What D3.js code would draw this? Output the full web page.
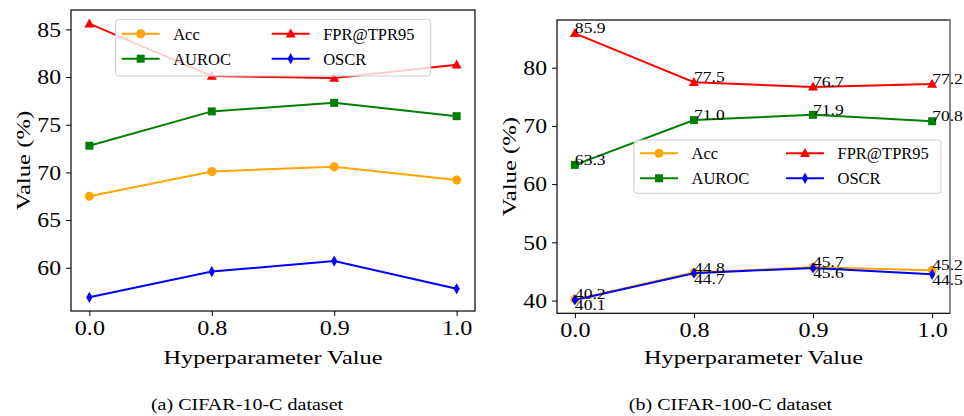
<!DOCTYPE html>
<html>
<head>
<meta charset="utf-8">
<script src="https://cdn.jsdelivr.net/npm/d3@7"></script>
<style>
  html, body { margin: 0; padding: 0; background: #fff; }
  svg { display: block; font-family: "Liberation Serif", "DejaVu Serif", serif; }
</style>
</head>
<body>
<svg id="chart" width="964" height="416"></svg>
<script>
// x categories (hyperparameter values)
const xLabels = ['0.0', '0.8', '0.9', '1.0'];

// (a) CIFAR-10-C
const accA = [67.5, 70.1, 70.6, 69.2];
const aurocA = [72.8, 76.4, 77.3, 75.9];
const fprA = [85.6, 80.1, 79.9, 81.3];
const oscrA = [56.9, 59.6, 60.7, 57.8];
const yTicksA = [60, 65, 70, 75, 80, 85];

// (b) CIFAR-100-C
const accB = [40.2, 44.8, 45.7, 45.2];
const aurocB = [63.3, 71.0, 71.9, 70.8];
const fprB = [85.9, 77.5, 76.7, 77.2];
const oscrB = [40.1, 44.7, 45.6, 44.5];
const yTicksB = [40, 50, 60, 70, 80];

const seriesNames = ['Acc', 'AUROC', 'FPR@TPR95', 'OSCR'];
const seriesColors = ['#FFA500', '#008000', '#FF0000', '#0000FF'];
const seriesMarkers = ['circle', 'square', 'triangle', 'diamond'];

const svg = d3.select('#chart');

// the source figure has its text stretched along the baseline
function stretch(sel, sx) {
  sel.each(function() {
    const el = d3.select(this);
    const x = +el.attr('x') || 0, y = +el.attr('y') || 0;
    el.attr('x', 0).attr('y', 0).attr('transform', `translate(${x},${y}) scale(${sx},1)`);
  });
}

function markerPath(kind) {
  if (kind === 'circle') return d3.symbol(d3.symbolCircle, 64)();
  if (kind === 'square') return d3.symbol(d3.symbolSquare, 64)();
  if (kind === 'triangle') return 'M0,-5.3L5,3.7L-5,3.7Z';
  return 'M0,-5.6L3.2,0L0,5.6L-3.2,0Z';
}

function drawPanel(o) {
  const g = svg.append('g');
  const x = d3.scalePoint().domain(xLabels).range([o.left, o.right]).padding(0.15);
  const all = o.series.flat();
  const lo = d3.min(all), hi = d3.max(all), pad = (hi - lo) * 0.05;
  const y = d3.scaleLinear().domain([lo - pad, hi + pad]).range([o.bottom, o.top]);

  // axes
  const ax = g.append('g').attr('transform', `translate(0,${o.bottom})`)
    .call(d3.axisBottom(x).tickSize(5).tickPadding(4));
  const ay = g.append('g').attr('transform', `translate(${o.left},0)`)
    .call(d3.axisLeft(y).tickValues(o.yTicks).tickSize(5).tickPadding(5));
  [ax, ay].forEach(a => {
    a.attr('font-family', null).attr('font-size', null);
    a.select('.domain').remove();
    a.selectAll('line').attr('stroke', '#000').attr('stroke-width', 1);
    a.selectAll('text').attr('font-size', 21).attr('fill', '#000');
  });
  stretch(ay.selectAll('text'), 1.13);
  stretch(ax.selectAll('text'), 1.15);

  // frame
  g.append('rect').attr('x', o.left).attr('y', o.top)
    .attr('width', o.right - o.left).attr('height', o.bottom - o.top)
    .attr('fill', 'none').attr('stroke', '#000').attr('stroke-width', 1.2);
  if (o.grayRight) {
    g.append('line').attr('x1', o.right).attr('x2', o.right).attr('y1', o.top).attr('y2', o.bottom)
      .attr('stroke', '#888').attr('stroke-width', 2);
  }

  // lines + markers
  const line = d3.line().x((d, i) => x(xLabels[i])).y(d => y(d));
  o.series.forEach((vals, si) => {
    g.append('path').datum(vals).attr('d', line)
      .attr('fill', 'none').attr('stroke', seriesColors[si]).attr('stroke-width', 2);
    g.selectAll(null).data(vals).enter().append('path')
      .attr('d', markerPath(seriesMarkers[si]))
      .attr('transform', (d, i) => `translate(${x(xLabels[i])},${y(d)})`)
      .attr('fill', seriesColors[si]);
  });

  // value labels
  if (o.labels) {
    o.series.forEach((vals, si) => {
      const t = g.selectAll(null).data(vals).enter().append('text')
        .attr('x', (d, i) => x(xLabels[i]))
        .attr('y', d => y(d) + (si === 3 ? 10.5 : 0))
        .attr('font-size', 15).attr('fill', '#000')
        .text(d => d.toFixed(1));
      stretch(t, 1.17);
    });
  }

  // axis titles
  const xt = g.append('text').attr('x', (o.left + o.right) / 2).attr('y', 364)
    .attr('text-anchor', 'middle').attr('font-size', 19).text('Hyperparameter Value');
  stretch(xt, 1.28);
  g.append('text').attr('transform', `translate(${o.ylabelX},${(o.top + o.bottom) / 2}) rotate(-90) scale(1.3,1)`)
    .attr('text-anchor', 'middle').attr('font-size', 19).text('Value (%)');

  // legend
  const L = o.legend;
  g.append('rect').attr('x', L.x).attr('y', L.y).attr('width', L.w).attr('height', L.h)
    .attr('rx', 3).attr('fill', '#fff').attr('fill-opacity', 0.8)
    .attr('stroke', '#cccccc').attr('stroke-width', 1);
  seriesNames.forEach((name, si) => {
    const col = Math.floor(si / 2), row = si % 2;
    const lx = L.x + 6 + col * L.colStep, ly = L.row0 + row * 25;
    g.append('line').attr('x1', lx).attr('x2', lx + 38).attr('y1', ly).attr('y2', ly)
      .attr('stroke', seriesColors[si]).attr('stroke-width', 2);
    g.append('path').attr('d', markerPath(seriesMarkers[si]))
      .attr('transform', `translate(${lx + 19},${ly})`).attr('fill', seriesColors[si]);
    g.append('text').attr('x', lx + 51.5).attr('y', ly + 5.8)
      .attr('font-size', 16.5).attr('fill', '#000').text(name);
  });

  const cap = g.append('text').attr('x', o.capX).attr('y', 410)
    .attr('text-anchor', 'middle').attr('font-size', 17).text(o.caption);
  stretch(cap, 1.18);
}

drawPanel({
  left: 71, right: 475, top: 10, bottom: 311,
  series: [accA, aurocA, fprA, oscrA], yTicks: yTicksA,
  ylabelX: 30, labels: false,
  legend: { x: 115.7, y: 19.3, w: 315, h: 56.7, row0: 33.7, colStep: 150 },
  caption: '(a)  CIFAR-10-C dataset', capX: 247
});

drawPanel({
  left: 557, right: 950, top: 20, bottom: 313.3,
  series: [accB, aurocB, fprB, oscrB], yTicks: yTicksB,
  ylabelX: 516, labels: true, grayRight: true,
  legend: { x: 634, y: 140, w: 307, h: 53.3, row0: 153.3, colStep: 146 },
  caption: '(b)  CIFAR-100-C dataset', capX: 730.5
});
</script>
</body>
</html>
